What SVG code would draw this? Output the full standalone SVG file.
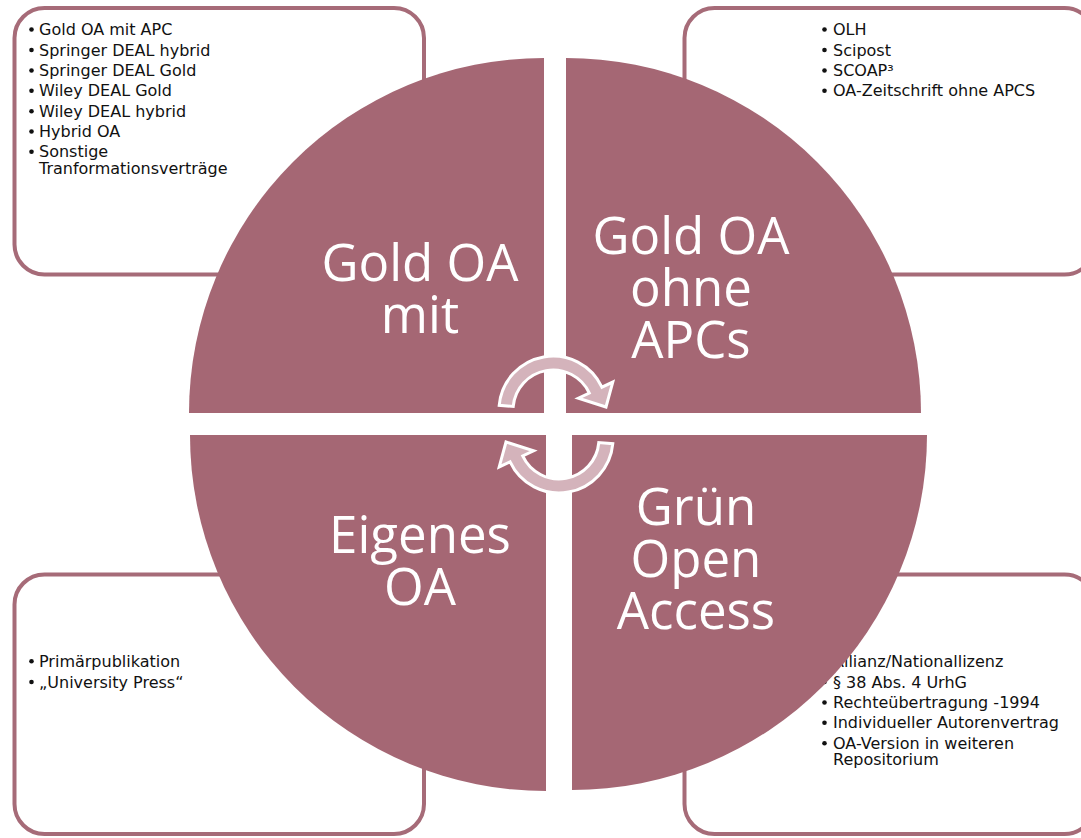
<svg xmlns="http://www.w3.org/2000/svg" width="1081" height="838" viewBox="0 0 1081 838">
<style>
.box{fill:#ffffff;stroke:#A66B78;stroke-width:4}
.quad{fill:#A56774}
.item{font-family:"DejaVu Sans","Liberation Sans",sans-serif;font-size:16px;fill:#111111}
.dot{fill:#111111}
.big{font-family:"Open Sans","Liberation Sans",sans-serif;font-size:51px;fill:#ffffff;text-anchor:middle}
.arr{fill:#D4B3BB;stroke:#ffffff;stroke-width:3;stroke-linejoin:miter}
</style>
<rect width="1081" height="838" fill="#ffffff"/>

<g id="box-tl">
<rect class="box" x="14.5" y="8" width="409.5" height="266.5" rx="30"/>
<circle class="dot" cx="31.5" cy="29.5" r="2.3"/>
<circle class="dot" cx="31.5" cy="50" r="2.3"/>
<circle class="dot" cx="31.5" cy="70.5" r="2.3"/>
<circle class="dot" cx="31.5" cy="90.8" r="2.3"/>
<circle class="dot" cx="31.5" cy="111.2" r="2.3"/>
<circle class="dot" cx="31.5" cy="131.5" r="2.3"/>
<circle class="dot" cx="31.5" cy="151.8" r="2.3"/>
<text class="item" x="39" y="35">Gold OA mit APC</text>
<text class="item" x="39" y="55.5">Springer DEAL hybrid</text>
<text class="item" x="39" y="76">Springer DEAL Gold</text>
<text class="item" x="39" y="96.3">Wiley DEAL Gold</text>
<text class="item" x="39" y="116.7">Wiley DEAL hybrid</text>
<text class="item" x="39" y="137">Hybrid OA</text>
<text class="item" x="39" y="157.3">Sonstige</text>
<text class="item" x="39" y="174">Tranformationsverträge</text>
</g>

<g id="box-tr">
<rect class="box" x="684.5" y="8" width="410" height="266.5" rx="30"/>
<circle class="dot" cx="824.5" cy="29.5" r="2.3"/>
<circle class="dot" cx="824.5" cy="50" r="2.3"/>
<circle class="dot" cx="824.5" cy="70.5" r="2.3"/>
<circle class="dot" cx="824.5" cy="90.8" r="2.3"/>
<text class="item" x="833" y="35">OLH</text>
<text class="item" x="833" y="55.5">Scipost</text>
<text class="item" x="833" y="76">SCOAP³</text>
<text class="item" x="833" y="96.3">OA-Zeitschrift ohne APCS</text>
</g>

<g id="box-bl">
<rect class="box" x="14.5" y="574.5" width="409.5" height="259.5" rx="30"/>
<circle class="dot" cx="31.5" cy="661.2" r="2.3"/>
<circle class="dot" cx="31.5" cy="682" r="2.3"/>
<text class="item" x="39" y="666.7">Primärpublikation</text>
<text class="item" x="39" y="687.5">„University Press“</text>
</g>

<g id="box-br">
<rect class="box" x="684.5" y="574.5" width="410" height="259.5" rx="30"/>
<circle class="dot" cx="824.5" cy="661.2" r="2.3"/>
<circle class="dot" cx="824.5" cy="682" r="2.3"/>
<circle class="dot" cx="824.5" cy="702.5" r="2.3"/>
<circle class="dot" cx="824.5" cy="722.8" r="2.3"/>
<circle class="dot" cx="824.5" cy="743.2" r="2.3"/>
<text class="item" x="833" y="666.7">Allianz/Nationallizenz</text>
<text class="item" x="833" y="687.5">§ 38 Abs. 4 UrhG</text>
<text class="item" x="833" y="708">Rechteübertragung -1994</text>
<text class="item" x="833" y="728.3">Individueller Autorenvertrag</text>
<text class="item" x="833" y="748.7">OA-Version in weiteren</text>
<text class="item" x="833" y="765.3">Repositorium</text>
</g>

<g id="q-tl">
<path class="quad" d="M544,413 L189,413 A355,355 0 0 1 544,58 Z"/>
<text class="big" x="420" y="281">Gold OA</text>
<text class="big" x="420" y="333">mit</text>
</g>
<g id="q-tr">
<path class="quad" d="M566,413 L566,58 A355,355 0 0 1 921,413 Z"/>
<text class="big" x="691" y="254">Gold OA</text>
<text class="big" x="691" y="306">ohne</text>
<text class="big" x="691" y="358">APCs</text>
</g>
<g id="q-bl">
<path class="quad" d="M546,435 L546,791 A356,356 0 0 1 190,435 Z"/>
<text class="big" x="420" y="553">Eigenes</text>
<text class="big" x="420" y="605">OA</text>
</g>
<g id="q-br">
<path class="quad" d="M572,435 L927,435 A355,355 0 0 1 572,790 Z"/>
<text class="big" x="696" y="525">Grün</text>
<text class="big" x="696" y="577">Open</text>
<text class="big" x="696" y="629">Access</text>
</g>

<g id="connectors">
<path id="arrow-top" class="arr" d="M499.2,405.3 A54,54 0 0 1 601.9,387.2 L612.8,382.1 L606,407 L578.4,398.2 L589.3,393.1 A40,40 0 0 0 513.2,406.5 Z"/>
<path id="arrow-bottom" class="arr" transform="rotate(180 556 424.5)" d="M499.2,405.3 A54,54 0 0 1 601.9,387.2 L612.8,382.1 L606,407 L578.4,398.2 L589.3,393.1 A40,40 0 0 0 513.2,406.5 Z"/>
</g>
</svg>
